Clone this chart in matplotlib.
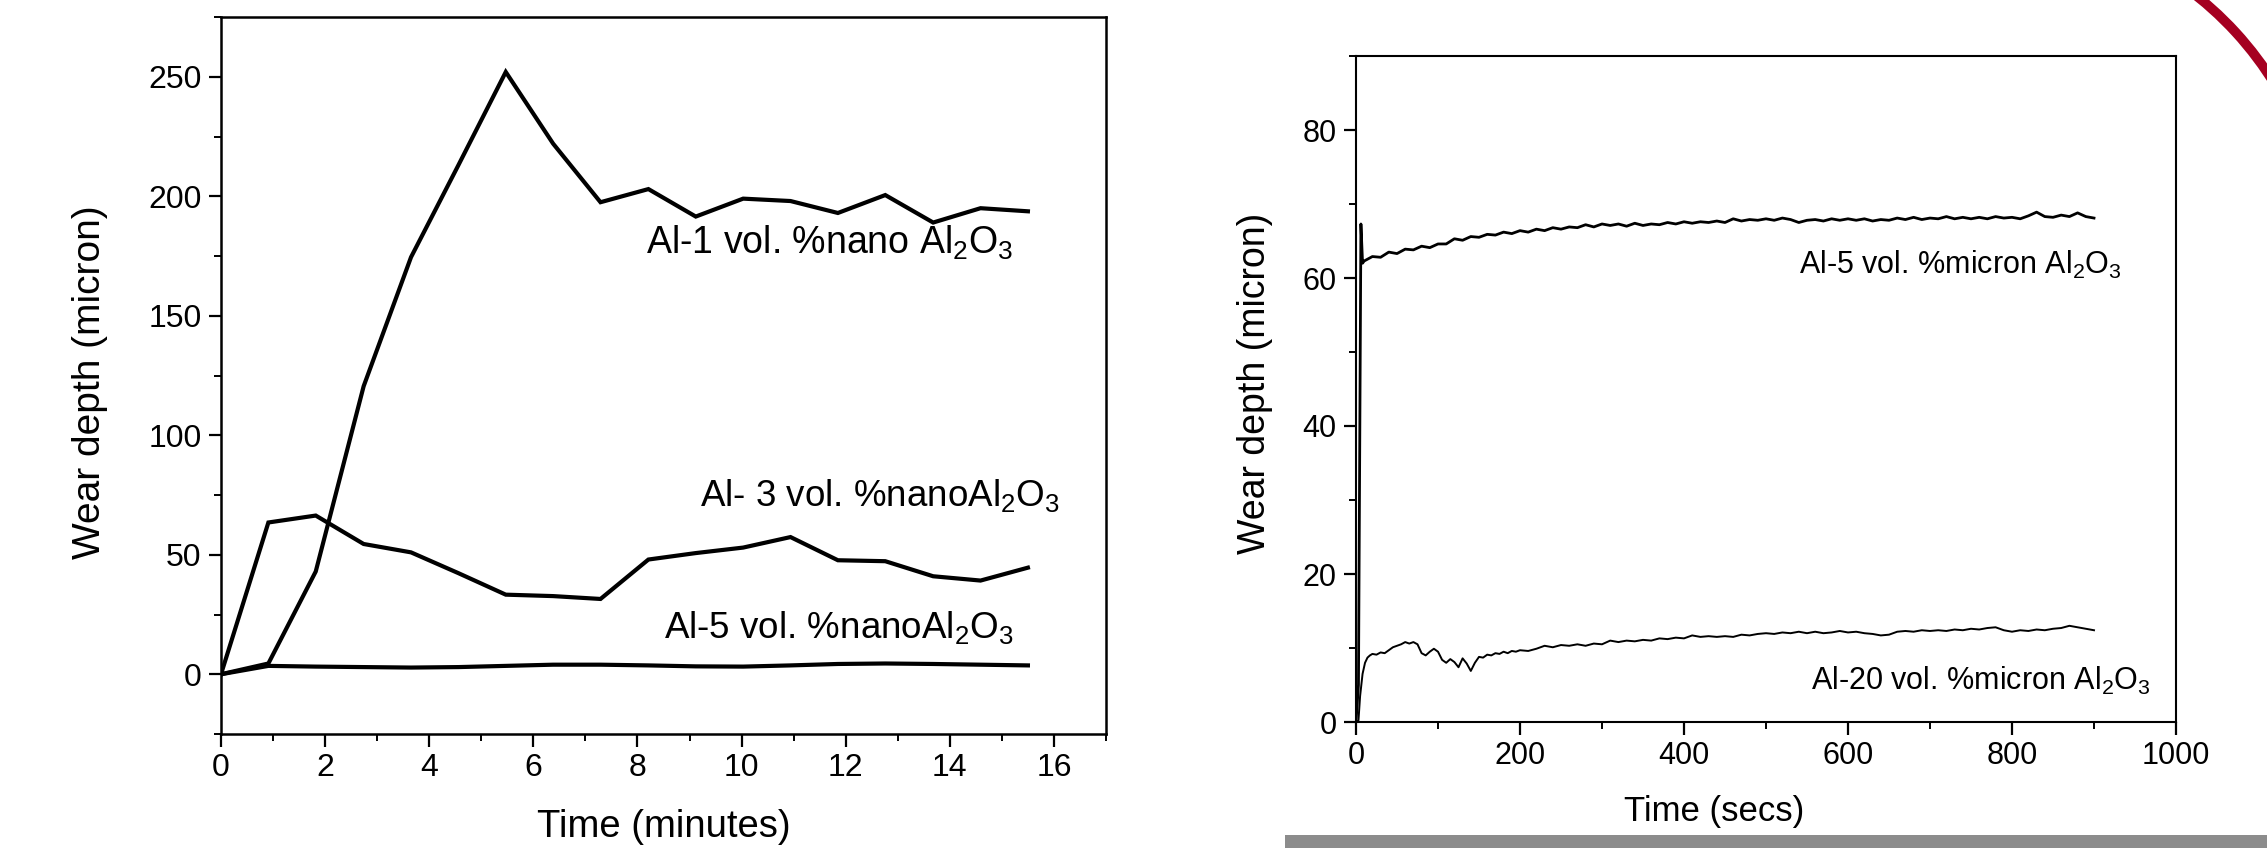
import numpy as np
import matplotlib
matplotlib.use("Agg")
import matplotlib.pyplot as plt
from matplotlib.ticker import MultipleLocator
from matplotlib.patches import Arc, Rectangle

plt.rcParams['font.family'] = ['Liberation Sans', 'DejaVu Sans']
plt.rcParams['mathtext.fontset'] = 'custom'
plt.rcParams['mathtext.rm'] = 'Liberation Sans'
plt.rcParams['mathtext.it'] = 'Liberation Sans'

# left panel: wear depth vs time (minutes), nano Al2O3
t_min = [0, 0.91, 1.82, 2.74, 3.65, 4.56, 5.47, 6.38, 7.29, 8.21,
         9.12, 10.03, 10.94, 11.85, 12.76, 13.68, 14.59, 15.5]
al1_nano = [0, 4.5, 43, 120.5, 174.5, 213, 252, 222, 197.5, 203,
            191.5, 199, 198, 193, 200.5, 189, 195, 193.7]
al3_nano = [0, 63.5, 66.4, 54.5, 51, 42.3, 33.3, 32.7, 31.5, 48,
            50.7, 53, 57.4, 47.7, 47.3, 41, 39.2, 44.6]
al5_nano = [0, 3.5, 3.2, 3.0, 2.8, 3.0, 3.5, 4.0, 4.0, 3.7,
            3.3, 3.2, 3.7, 4.3, 4.5, 4.3, 4.0, 3.7]

# right panel: wear depth vs time (secs), micron Al2O3
t_al5_micron = [0, 3, 6, 8] + list(range(10, 901, 10))
al5_micron = [0, 5, 67.3, 62.0,
              62.3, 62.9, 62.8, 63.5, 63.3, 63.9, 63.8, 64.3, 64.1, 64.6,
              64.6, 65.3, 65.1, 65.6, 65.5, 65.9, 65.8, 66.2, 66.0, 66.4,
              66.2, 66.6, 66.4, 66.8, 66.6, 66.9, 66.8, 67.2, 66.9, 67.3,
              67.1, 67.3, 67.0, 67.4, 67.1, 67.3, 67.2, 67.5, 67.3, 67.6,
              67.4, 67.6, 67.5, 67.7, 67.5, 68.0, 67.7, 67.9, 67.8, 68.0,
              67.8, 68.1, 67.9, 67.5, 67.8, 67.9, 67.7, 68.0, 67.8, 68.0,
              67.8, 68.0, 67.7, 67.9, 67.8, 68.1, 67.9, 68.2, 67.9, 68.1,
              68.0, 68.3, 68.0, 68.2, 68.0, 68.2, 68.0, 68.3, 68.1, 68.2,
              68.0, 68.4, 68.9, 68.3, 68.2, 68.5, 68.3, 68.8, 68.3, 68.1]
t_al20_micron = [0, 3, 5, 8, 11, 14, 17] + list(range(20, 201, 5)) + list(range(210, 901, 10))
al20_micron = [0, 0.2, 3.5, 6.5, 8.0, 8.7, 9.0,
               9.2, 9.1, 9.4, 9.3, 9.7, 10.1, 10.3, 10.5, 10.8, 10.6,
               10.8, 10.5, 9.3, 9.0, 9.5, 9.9, 9.5, 8.4, 8.0, 8.5,
               8.1, 7.4, 8.6, 7.9, 6.9, 8.0, 8.8, 8.7, 9.1, 9.0,
               9.3, 9.2, 9.5, 9.3, 9.6, 9.5, 9.7,
               9.6, 9.9, 10.3, 10.1, 10.4, 10.3, 10.5, 10.3, 10.6, 10.5,
               11.0, 10.8, 11.0, 10.9, 11.1, 11.0, 11.3, 11.2, 11.4, 11.3,
               11.7, 11.5, 11.6, 11.5, 11.6, 11.5, 11.8, 11.7, 11.9, 12.0,
               11.9, 12.1, 12.0, 12.2, 12.0, 12.2, 12.0, 12.1, 12.3, 12.1,
               12.2, 12.0, 11.9, 11.7, 11.8, 12.2, 12.3, 12.2, 12.4, 12.3,
               12.4, 12.3, 12.5, 12.4, 12.6, 12.5, 12.7, 12.8, 12.4, 12.2,
               12.4, 12.3, 12.5, 12.4, 12.6, 12.7, 13.0, 12.8, 12.6, 12.4]

fig = plt.figure(figsize=(22.67, 8.48), dpi=100)
ax1 = fig.add_axes([221 / 2267, 1 - 734 / 848, 885 / 2267, 717 / 848])
ax2 = fig.add_axes([1356 / 2267, 1 - 722 / 848, 820 / 2267, 666 / 848])

# left chart
for ys in (al1_nano, al3_nano, al5_nano):
    ax1.plot(t_min, ys, color='black', lw=3.0, solid_joinstyle='miter')
ax1.set_xlim(0, 17)
ax1.set_ylim(-25, 275)
ax1.xaxis.set_major_locator(MultipleLocator(2))
ax1.xaxis.set_minor_locator(MultipleLocator(1))
ax1.yaxis.set_major_locator(MultipleLocator(50))
ax1.yaxis.set_minor_locator(MultipleLocator(25))
ax1.set_xlabel('Time (minutes)', fontsize=27.5)
ax1.set_ylabel('Wear depth (micron)', fontsize=28)
ax1.xaxis.set_label_coords(0.5, -0.105)
ax1.yaxis.set_label_coords(-0.128, 0.49)
ax1.text(8.16, 176, 'Al-1 vol. %nano Al$_2$O$_3$', fontsize=27)
ax1.text(9.2, 70.5, 'Al- 3 vol. %nanoAl$_2$O$_3$', fontsize=26.5)
ax1.text(8.5, 15, 'Al-5 vol. %nanoAl$_2$O$_3$', fontsize=26.5)

# right chart
ax2.plot(t_al5_micron, al5_micron, color='black', lw=2.0)
ax2.plot(t_al20_micron, al20_micron, color='black', lw=1.4)
ax2.set_xlim(0, 1000)
ax2.set_ylim(0, 90)
ax2.xaxis.set_major_locator(MultipleLocator(200))
ax2.xaxis.set_minor_locator(MultipleLocator(100))
ax2.yaxis.set_major_locator(MultipleLocator(20))
ax2.yaxis.set_minor_locator(MultipleLocator(10))
ax2.set_xlabel('Time (secs)', fontsize=25)
ax2.set_ylabel('Wear depth (micron)', fontsize=27)
ax2.xaxis.set_label_coords(0.437, -0.11)
ax2.yaxis.set_label_coords(-0.101, 0.509)
ax2.text(540, 60.6, 'Al-5 vol. %micron Al$_2$O$_3$', fontsize=22)
ax2.text(555, 4.3, 'Al-20 vol. %micron Al$_2$O$_3$', fontsize=22)

for ax, sw, ls in ((ax1, 1.8, 23), (ax2, 1.5, 22)):
    for s in ax.spines.values():
        s.set_linewidth(sw)
    ax.tick_params(which='major', direction='out', length=9, width=1.6,
                   labelsize=ls, pad=5, top=False, right=False)
    ax.tick_params(which='minor', direction='out', length=5, width=1.4,
                   top=False, right=False)

# slide decorations: red arc top right, grey strip bottom right
fig.add_artist(Arc((1985, 586), 680, 680, theta1=20, theta2=65,
                   color='#a50021', lw=7, transform=None))
fig.add_artist(Rectangle((1285 / 2267, 0), 1 - 1285 / 2267, 13 / 848,
                         transform=fig.transFigure, color='#8c8c8c', lw=0))

fig.savefig('out.png', dpi=100)
